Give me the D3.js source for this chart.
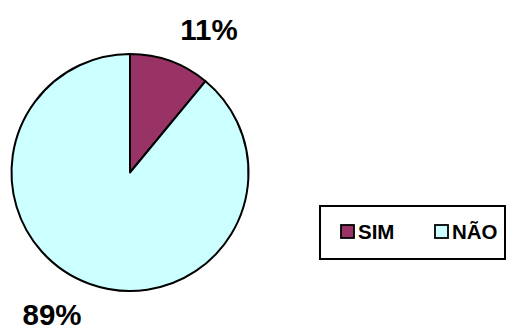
<!DOCTYPE html>
<html>
<head>
<meta charset="utf-8">
<script src="https://cdn.jsdelivr.net/npm/d3@7/dist/d3.min.js"></script>
<style>
  html, body { margin: 0; padding: 0; background: #fff; }
  svg { display: block; }
  text { font-family: Arial, "Liberation Sans", sans-serif; font-weight: bold; fill: #000; }
</style>
</head>
<body>
<svg id="chart" width="507" height="329"></svg>
<script>
// Answer categories and their shares (percent)
const categories = ["SIM", "NÃO"];
const values = [11, 89];
const colors = ["#993366", "#CCFFFF"];

const svg = d3.select("#chart");
const cx = 130, cy = 172.5, radius = 118.5;

const color = d3.scaleOrdinal().domain(categories).range(colors);

const pie = d3.pie().sort(null).value(d => d.value);
const arcs = pie(categories.map((c, i) => ({ name: c, value: values[i] })));
const arc = d3.arc().innerRadius(0).outerRadius(radius);

const g = svg.append("g").attr("transform", `translate(${cx},${cy})`);
g.selectAll("path")
  .data(arcs)
  .join("path")
  .attr("d", arc)
  .attr("fill", d => color(d.data.name))
  .attr("stroke", "#000")
  .attr("stroke-width", 2)
  .attr("stroke-linejoin", "round");

// Percentage labels placed outside the pie
const labelPos = [
  { x: 209, y: 40 },
  { x: 52, y: 325 }
];
svg.selectAll("text.pct")
  .data(arcs)
  .join("text")
  .attr("class", "pct")
  .attr("x", (d, i) => labelPos[i].x)
  .attr("y", (d, i) => labelPos[i].y)
  .attr("text-anchor", "middle")
  .attr("font-size", 29.5)
  .text(d => `${d.data.value}%`);

// Legend
const legend = svg.append("g");
legend.append("rect")
  .attr("x", 320).attr("y", 206)
  .attr("width", 185).attr("height", 53)
  .attr("fill", "#fff")
  .attr("stroke", "#000")
  .attr("stroke-width", 2);

const legendX = [341, 435];
const items = legend.selectAll("g.item")
  .data(categories)
  .join("g")
  .attr("class", "item")
  .attr("transform", (d, i) => `translate(${legendX[i]},225)`);
items.append("rect")
  .attr("width", 13).attr("height", 13)
  .attr("fill", d => color(d))
  .attr("stroke", "#000")
  .attr("stroke-width", 1.8);
items.append("text")
  .attr("x", (d, i) => i === 0 ? 17 : 17)
  .attr("y", 13.5)
  .attr("font-size", 20.5)
  .text(d => d);
</script>
</body>
</html>
